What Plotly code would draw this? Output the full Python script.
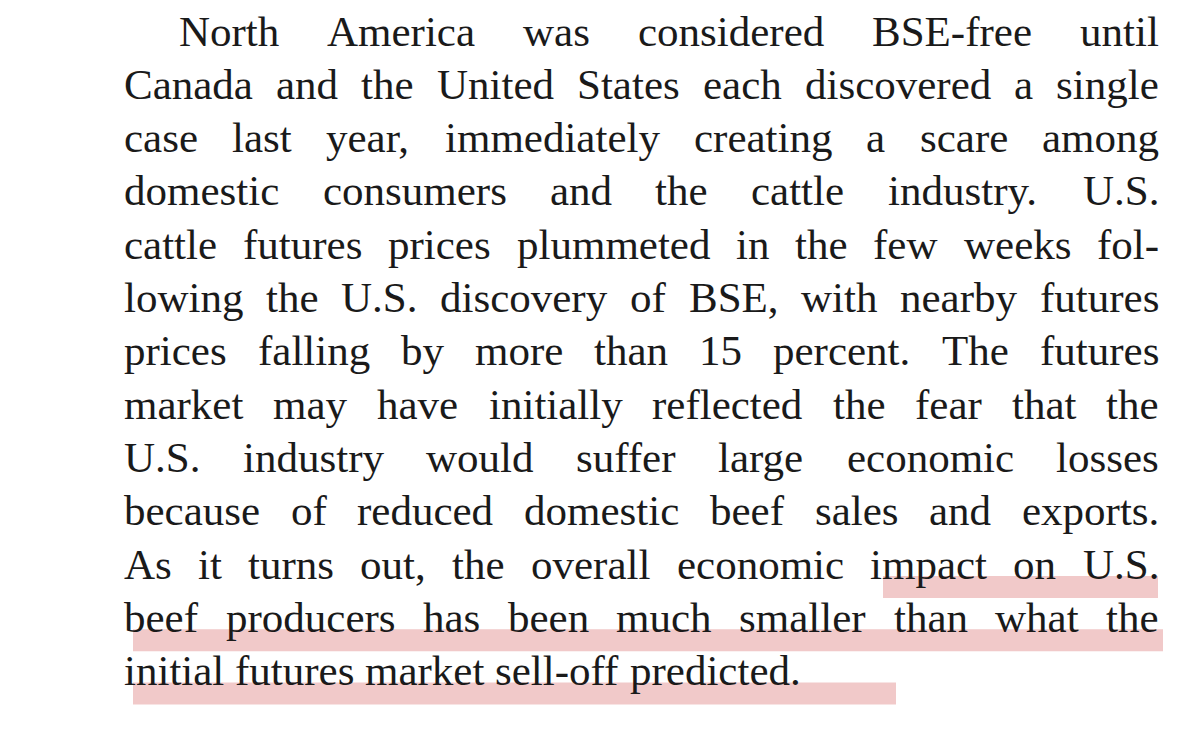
import plotly.graph_objects as go

# text lines of the page, top to bottom
lines = [
    "North America was considered BSE-free until",
    "Canada and the United States each discovered a single",
    "case last year, immediately creating a scare among",
    "domestic consumers and the cattle industry. U.S.",
    "cattle futures prices plummeted in the few weeks fol-",
    "lowing the U.S. discovery of BSE, with nearby futures",
    "prices falling by more than 15 percent. The futures",
    "market may have initially reflected the fear that the",
    "U.S. industry would suffer large economic losses",
    "because of reduced domestic beef sales and exports.",
    "As it turns out, the overall economic impact on U.S.",
    "beef producers has been much smaller than what the",
    "initial futures market sell-off predicted.",
]
indent = [1] + [0] * (len(lines) - 1)

# highlighted spans: (line index, start x, end x) in page pixels
hl_line = [10, 11, 12]
hl_start = [875, 125, 125]
hl_end = [1150, 1155, 888]

top, step = 33, 53.3
left, right, indent_w = 125, 1160, 55
fs = 43
pad = 10  # annotation box offset

# Times-style advance widths (per 1000 em)
tw = dict(zip("abcdefghijklmnopqrstuvwxyz",
              [444, 500, 444, 500, 444, 333, 500, 500, 278, 278, 500, 278, 778,
               500, 500, 500, 500, 333, 389, 278, 500, 500, 722, 500, 500, 444]))
tw.update(zip("ABCDEFGHIJKLMNOPQRSTUVWXYZ",
              [722, 667, 667, 722, 611, 556, 722, 722, 333, 389, 722, 611, 889,
               722, 722, 556, 722, 667, 556, 611, 722, 722, 944, 722, 722, 611]))
tw.update({".": 250, ",": 250, "-": 333, " ": 250})
tw.update({d: 500 for d in "0123456789"})


def word_width(w):
    return sum(tw.get(c, 500) for c in w) * fs / 1000


fig = go.Figure()
for i, ln in enumerate(hl_line):
    yc = top + ln * step
    fig.add_shape(type="rect", x0=hl_start[i], x1=hl_end[i], y0=yc + 2, y1=yc + 24,
                  fillcolor="rgba(225,135,135,0.45)", line_width=0, layer="below")

for i, text in enumerate(lines):
    yc = top + i * step
    words = text.split(" ")
    x0 = left + indent[i] * indent_w
    widths = [word_width(w) for w in words]
    if i == len(lines) - 1:
        gap = fs * 0.25
    else:
        gap = (right - x0 - sum(widths)) / (len(words) - 1)
    x = x0
    for w, wd in zip(words, widths):
        fig.add_annotation(x=x - pad, y=yc - pad, text=w, showarrow=False, xanchor="left",
                           yanchor="middle", borderpad=0,
                           font=dict(family="Liberation Serif", size=fs, color="#1a1a1a"))
        x += wd + gap

fig.update_xaxes(range=[0, 1200], visible=False)
fig.update_yaxes(range=[732, 0], visible=False)
fig.update_layout(width=1200, height=732, margin=dict(l=0, r=0, t=0, b=0),
                  plot_bgcolor="white", paper_bgcolor="white", showlegend=False)
fig.write_html("out.html")
